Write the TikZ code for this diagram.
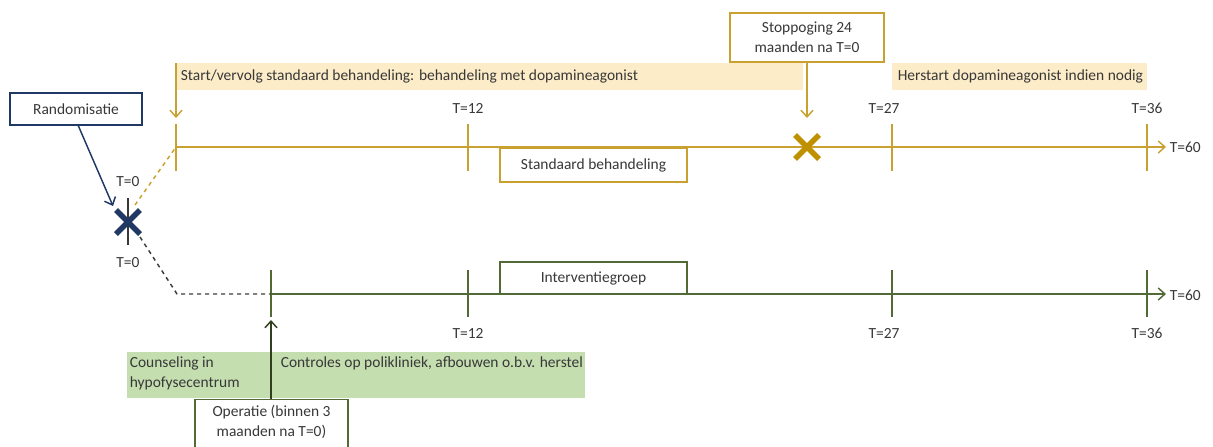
\documentclass[tikz,border=0pt]{standalone}
\usepackage{fontspec}
\setmainfont{Carlito}
\usetikzlibrary{arrows.meta,calc}

\definecolor{goud}{RGB}{201,161,48}
\definecolor{goudkruis}{RGB}{191,144,0}
\definecolor{lichtgeel}{RGB}{252,236,200}
\definecolor{groen}{RGB}{82,106,54}
\definecolor{lichtgroen}{RGB}{196,222,176}
\definecolor{navy}{RGB}{31,56,100}
\definecolor{tekst}{RGB}{56,56,56}

\tikzset{every picture/.style={line width=0.75pt}}

\begin{document}
\begin{tikzpicture}[x=0.75pt,y=0.75pt,yscale=-1,xscale=1,
	every node/.style={font=\fontsize{11.6}{15}\selectfont, text=tekst},
	pijl/.style={-{Straight Barb[length=5pt,width=9pt]}},
	kader/.style={draw, fill=white, line width=1.1pt, align=center, inner sep=2pt},
	kruis/.style={line width=4pt},
	tlabel/.style={inner sep=1pt}]
	%set diagram to 1213 x 446
	\clip (0,0) rectangle (1213,446);

	%Shape: Rectangle (yellow bands)
	\fill [lichtgeel] (176,63) rectangle (803,90);
	\fill [lichtgeel] (892,63) rectangle (1147,90);
	%Shape: Rectangle (green band)
	\fill [lichtgroen] (127,352) rectangle (585,398);

	%Coordinates of the two time lines
	\coordinate (s0) at (176,147);
	\coordinate (s12) at (468,147);
	\coordinate (s24) at (807,147);
	\coordinate (s27) at (892,147);
	\coordinate (s36) at (1147,147);
	\coordinate (s60) at (1166,147);
	\coordinate (i0) at (177,294);
	\coordinate (i3) at (271,294);
	\coordinate (i12) at (468,294);
	\coordinate (i27) at (892,294);
	\coordinate (i36) at (1147,294);
	\coordinate (i60) at (1166,294);
	\coordinate (rx) at (128,222);

	%Straight Lines (standaard behandeling)
	\draw [goud, line width=1.1pt, pijl] (s0) -- (s60);
	\foreach \t in {s0,s12,s27,s36}
		\draw [goud, line width=1.1pt] ($(\t)+(0,-23)$) -- ($(\t)+(0,24)$);
	%Straight Lines (interventiegroep)
	\draw [groen, line width=1.1pt, pijl] (i3) -- (i60);
	\foreach \t in {i3,i12,i27,i36}
		\draw [groen, line width=1.1pt] ($(\t)+(0,-24)$) -- ($(\t)+(0,23)$);
	%Dashed Lines from randomisatie
	\draw [goud, line width=1.1pt, dashed] (135,205) -- (s0);
	\draw [tekst!90!groen, line width=1.1pt, dashed] (140,237) -- (i0) -- (i3);
	%Straight Lines (T=0 tick)
	\draw [tekst, line width=1.1pt] ($(rx)+(0,-24)$) -- ($(rx)+(0,23)$);

	%Shape: Cross randomisatie
	\draw [navy, kruis] ($(rx)+(-12,-12)$) -- ($(rx)+(12,12)$) ($(rx)+(-12,12)$) -- ($(rx)+(12,-12)$);
	%Shape: Cross stoppoging
	\draw [goudkruis, kruis] ($(s24)+(-12,-12)$) -- ($(s24)+(12,12)$) ($(s24)+(-12,12)$) -- ($(s24)+(12,-12)$);

	% Text Node
	\node [kader, draw=navy, minimum width=99pt, minimum height=24pt] (rand) at (76,109) {Randomisatie};
	% Text Node
	\node [kader, draw=goud, minimum width=115.5pt, minimum height=36.75pt] (stop) at (807,37.5) {Stoppoging 24\\maanden na T=0};
	% Text Node
	\node [kader, draw=goud, minimum width=140pt, minimum height=25.5pt] (stand) at (593.5,165) {Standaard behandeling};
	% Text Node
	\node [kader, draw=groen, minimum width=140pt, minimum height=24pt] (interv) at (593.5,278) {Interventiegroep};
	% Text Node
	\node [kader, draw=groen, minimum width=114.75pt, minimum height=40pt, anchor=north, text depth=8pt] (oper) at (271.5,399) {Operatie (binnen 3\\maanden na T=0)};

	% Text Node
	\node [tlabel, anchor=west] (startlbl) at (179,76.5) {Start/vervolg standaard behandeling: behandeling met dopamineagonist};
	% Text Node
	\node [tlabel, anchor=west] (herstart) at (896,76.5) {Herstart dopamineagonist indien nodig};
	% Text Node
	\node [tlabel, anchor=north west, align=left] (couns) at (128,355) {Counseling in\\hypofysecentrum};
	% Text Node
	\node [tlabel, anchor=north west] (contr) at (279,355) {Controles op polikliniek, afbouwen o.b.v. herstel};

	%Arrows
	\coordinate (randpunt) at (113,206);
	\draw [navy, line width=1.1pt, pijl] (78,125) -- (randpunt);
	\coordinate (startpunt) at (176,118);
	\draw [goud, line width=1.1pt, pijl] (176,63) -- (startpunt);
	\coordinate (stoppunt) at (807,118);
	\draw [goud, line width=1.1pt, pijl] (stop.south) -- (stoppunt);
	\coordinate (operpunt) at (271,320);
	\draw [groen!60!black, line width=1.1pt, pijl] (oper.north -| operpunt) -- (operpunt);

	% Text Node (time labels)
	\node [tlabel] (t0a) at ($(rx)+(0,-40)$) {T=0};
	\node [tlabel] (t0b) at ($(rx)+(0,41)$) {T=0};
	\node [tlabel] (st12) at (468,108) {T=12};
	\node [tlabel] (st27) at (884,108) {T=27};
	\node [tlabel] (st36) at (1147,108) {T=36};
	\node [tlabel, anchor=west] (st60) at (1168,147) {T=60};
	\node [tlabel] (it12) at (468,333) {T=12};
	\node [tlabel] (it27) at (884,333) {T=27};
	\node [tlabel] (it36) at (1147,333) {T=36};
	\node [tlabel, anchor=west] (it60) at (1168,295) {T=60};

\end{tikzpicture}
\end{document}
